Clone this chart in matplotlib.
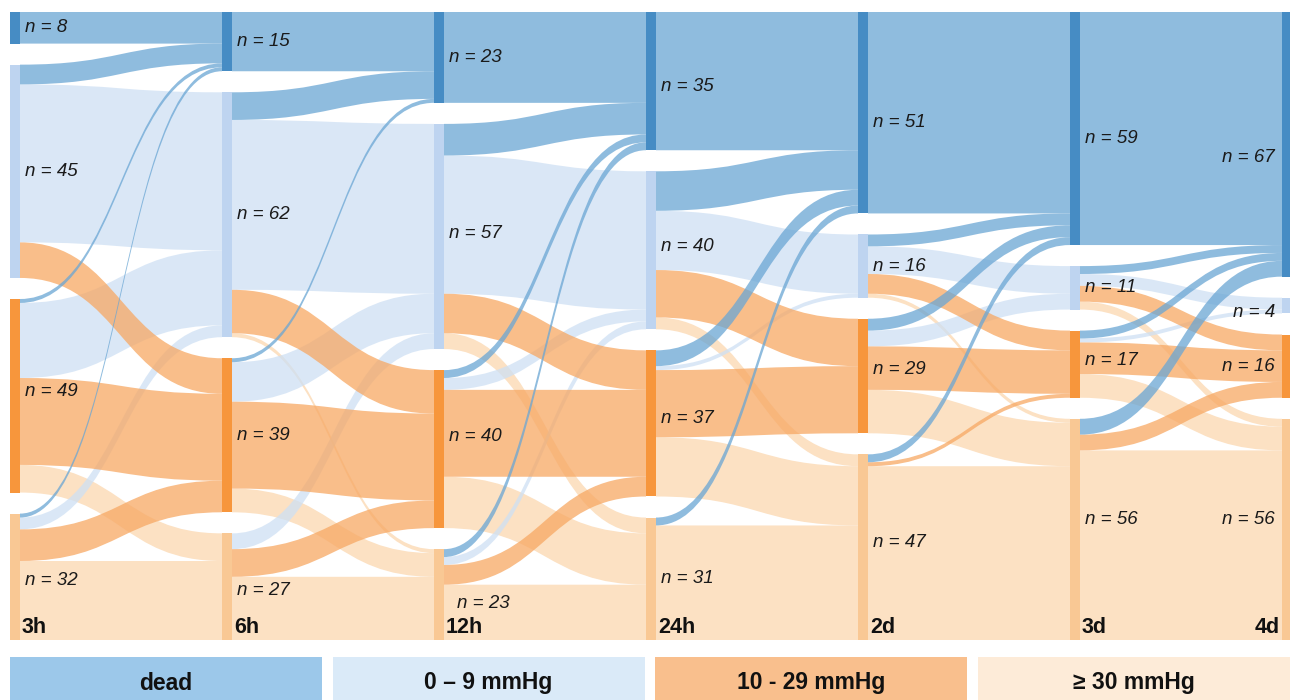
import numpy as np
import matplotlib
matplotlib.use("Agg")
import matplotlib.pyplot as plt
from matplotlib.path import Path
from matplotlib.patches import PathPatch, Rectangle
from matplotlib.colors import to_rgb

# ---------------- data ----------------
times = ["3h", "6h", "12h", "24h", "2d", "3d", "4d"]
categories = ["dead", "0 – 9 mmHg", "10 - 29 mmHg", "≥ 30 mmHg"]

# transitions: rows = source state, cols = target state (dead, 0-9, 10-29, >=30)
flow_3h_6h = [[8, 0, 0, 0], [5, 40, 9, 0], [1, 19, 22, 7], [1, 3, 8, 20]]
flow_6h_12h = [[15, 0, 0, 0], [7, 43, 11, 1], [1, 10, 22, 6], [0, 4, 7, 16]]
flow_12h_24h = [[23, 0, 0, 0], [8, 35, 10, 4], [2, 3, 22, 13], [2, 2, 5, 14]]
flow_24h_2d = [[35, 0, 0, 0], [10, 15, 12, 3], [4, 1, 17, 15], [2, 0, 0, 29]]
flow_2d_3d = [[51, 0, 0, 0], [3, 7, 5, 1], [3, 4, 11, 11], [2, 0, 1, 44]]
flow_3d_4d = [[59, 0, 0, 0], [2, 3, 4, 2], [2, 1, 8, 6], [4, 0, 4, 48]]
transitions = [flow_3h_6h, flow_6h_12h, flow_12h_24h, flow_24h_2d, flow_2d_3d, flow_3d_4d]

# counts printed on the chart
n_3h = [8, 45, 49, 32]
n_6h = [15, 62, 39, 27]
n_12h = [23, 57, 40, 23]
n_24h = [35, 40, 37, 31]
n_2d = [51, 16, 29, 47]
n_3d = [59, 11, 17, 56]
n_4d = [67, 4, 16, 56]
n_labels = [n_3h, n_6h, n_12h, n_24h, n_2d, n_3d, n_4d]

# ---------------- style ----------------
flow_colors = ["#8FBCDF", "#DAE8F7", "#F9BE8A", "#FCE1C3"]
node_colors = ["#468CC4", "#BED4F0", "#F7963C", "#F9C894"]
legend_colors = ["#9CC8EA", "#DAEAF8", "#F9BF8D", "#FDEBD8"]
ALPHA = 0.75

# manual nudges of the count labels (pixels: dx, dy downward), layout only
label_nudge = {
    (0, 2): (0, -4), (0, 3): (0, 4),
    (1, 3): (0, 4),
    (2, 1): (0, -3), (2, 2): (0, -13), (2, 3): (8, 9),
    (3, 0): (0, 5), (3, 1): (0, -4), (3, 2): (0, -5),
    (4, 0): (0, 10), (4, 2): (0, -7), (4, 3): (0, -5),
    (5, 0): (0, 10), (5, 2): (0, -4), (5, 3): (0, -10),
    (6, 0): (0, 13), (6, 1): (0, 7), (6, 3): (0, -10),
}

def base_color(c, a=ALPHA):
    r = np.array(to_rgb(c))
    return tuple(np.clip((r - (1 - a)) / a, 0, 1))

W, H = 1290, 700
PX_X = 212.0            # pixels per column step
STRIP = 10 / PX_X       # node strip width
GAP = 5.33              # gap between nodes in patient units
TOTAL = 143 + 3 * GAP
PX_Y = 628 / TOTAL

fig = plt.figure(figsize=(W / 100, H / 100), dpi=100)
ax = fig.add_axes([10 / W, 60 / H, 1280 / W, 628 / H])
ax.set_xlim(0, 1280 / PX_X)
ax.set_ylim(TOTAL, 0)
ax.axis("off")

# node sizes per column from the transitions
sizes = [np.array(transitions[0]).sum(axis=1)]
for T in transitions:
    sizes.append(np.array(T).sum(axis=0))

tops = []
for s in sizes:
    t = []
    y = 0.0
    for v in s:
        t.append(y)
        y += v + GAP
    tops.append(t)

def band(x0, x1, a0, b0, a1, b1, color):
    xm = (x0 + x1) / 2
    verts = [(x0, a0), (xm, a0), (xm, a1), (x1, a1),
             (x1, b1), (xm, b1), (xm, b0), (x0, b0), (x0, a0)]
    codes = [Path.MOVETO, Path.CURVE4, Path.CURVE4, Path.CURVE4,
             Path.LINETO, Path.CURVE4, Path.CURVE4, Path.CURVE4, Path.CLOSEPOLY]
    ax.add_patch(PathPatch(Path(verts, codes), facecolor=base_color(color),
                           edgecolor="none", alpha=ALPHA, lw=0))

draw_order = [3, 1, 2, 0]
for k, T in enumerate(transitions):
    T = np.array(T)
    x0 = k + STRIP
    x1 = k + 1
    out_pos = {}
    for i in range(4):
        y = tops[k][i]
        for j in range(4):
            out_pos[(i, j)] = y
            y += T[i, j]
    in_pos = {}
    for j in range(4):
        y = tops[k + 1][j]
        for i in range(4):
            in_pos[(i, j)] = y
            y += T[i, j]
    for j in draw_order:
        for i in range(4):
            v = T[i, j]
            if v <= 0:
                continue
            a0 = out_pos[(i, j)]
            a1 = in_pos[(i, j)]
            band(x0, x1, a0, a0 + v, a1, a1 + v, flow_colors[j])

# node strips and labels
lab_font = ["Liberation Sans", "DejaVu Sans"]
for c in range(len(times)):
    for i in range(4):
        y0 = tops[c][i]
        h = sizes[c][i]
        ax.add_patch(Rectangle((c, y0), STRIP, h, facecolor=node_colors[i],
                               edgecolor="none", zorder=3))
        dx, dy = label_nudge.get((c, i), (0, 0))
        yc = y0 + h / 2 + dy / PX_Y
        txt = f"n = {n_labels[c][i]}"
        if c == len(times) - 1:
            ax.text(c - 7 / PX_X + dx / PX_X, yc, txt, ha="right", va="center",
                    fontsize=13.5, style="italic", family=lab_font,
                    color="#1a1a1a", zorder=4)
        else:
            ax.text(c + STRIP + (5 + dx) / PX_X, yc, txt, ha="left", va="center",
                    fontsize=13.5, style="italic", family=lab_font,
                    color="#1a1a1a", zorder=4)
    if c == len(times) - 1:
        ax.text(c - 2 / PX_X, TOTAL - 7 / PX_Y, times[c], ha="right",
                va="baseline", fontsize=15.5, fontweight="bold",
                family=lab_font, color="#111111", zorder=4)
    else:
        ax.text(c + STRIP + 2 / PX_X, TOTAL - 7 / PX_Y, times[c], ha="left",
                va="baseline", fontsize=15.5, fontweight="bold",
                family=lab_font, color="#111111", zorder=4)

# legend boxes
lax = fig.add_axes([10 / W, 0, 1280 / W, 43 / H])
lax.set_xlim(0, 1280)
lax.set_ylim(0, 43)
lax.axis("off")
bw = 312
step = (1280 - bw) / 3
for i, cat in enumerate(categories):
    lax.add_patch(Rectangle((i * step, 0), bw, 43, facecolor=legend_colors[i],
                            edgecolor="none"))
    lax.text(i * step + bw / 2, 17, cat, ha="center", va="center",
             fontsize=16.5, fontweight="bold", family=lab_font, color="#111111")

fig.savefig("out.png", dpi=100, facecolor="white")
